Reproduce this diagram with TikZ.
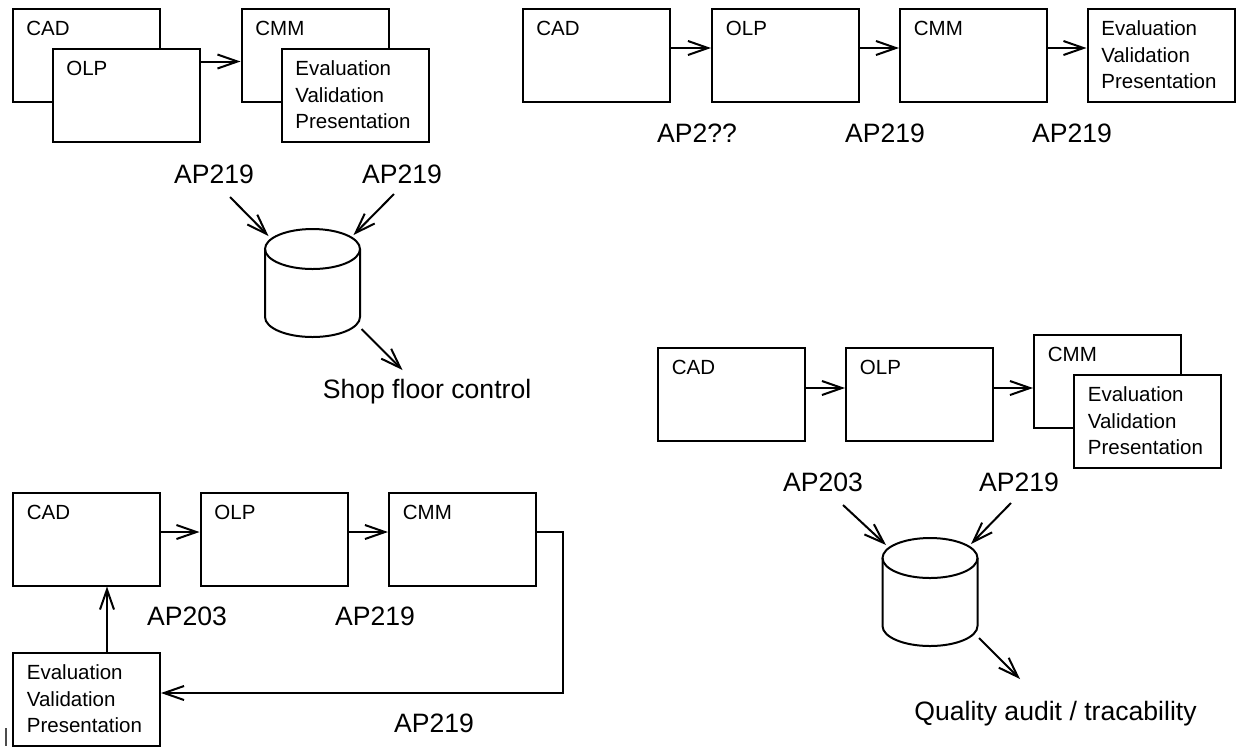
\documentclass[tikz,border=0pt]{standalone}
\usepackage{fontspec}
\setmainfont{Liberation Sans}
\usetikzlibrary{arrows.meta,calc}
\tikzset{
  >={Straight Barb[length=10pt,width=7pt]},
  boxtext/.style={font=\fontsize{10.25}{13.25}\selectfont,inner sep=0pt,
    anchor=north west,align=left,xshift=7.25pt,yshift=-6.5pt},
  box/.style={draw,fill=white,line width=1pt,minimum width=73.5pt,
    minimum height=46.5pt,label={[boxtext]north west:#1}},
  evalbox/.style={box={Evaluation\\Validation\\Presentation}},
  flow/.style={->,line width=1pt},
  tag/.style={font=\fontsize{13.3}{16}\selectfont,inner sep=0pt,anchor=base},
  % database drum
  pics/drum/.style={code={
    \draw[line width=1pt,fill=white] (-47.5,-34) -- (-47.5,34)
      arc[start angle=180,end angle=0,x radius=47.5,y radius=20] -- (47.5,-34);
    \draw[line width=1pt] (0,-34) ellipse[x radius=47.5,y radius=20];
    \coordinate (-inl) at (-44,-47);
    \coordinate (-inr) at (41,-48);
    \coordinate (-out) at (49,46);
    \coordinate (-end) at (90,87);
  }},
}

\begin{document}
\begin{tikzpicture}[x=0.5pt,y=-0.5pt]
  \useasboundingbox (0,0) rectangle (1236,746);

  % top left: shared database
  \node[box=CAD] (cadA) at (86,55) {};
  \node[box=OLP] (olpA) at (126,95) {};
  \node[box=CMM] (cmmA) at (315,55) {};
  \node[evalbox] (evalA) at (355,95) {};
  \coordinate (oA) at ([yshift=-7pt]olpA.north east);
  \draw[flow] (oA) -- (oA -| cmmA.west);
  \node[tag] (apA1) at (214,183) {AP219};
  \node[tag] (apA2) at (402,183) {AP219};
  \pic (dbA) at (312.5,283) {drum};
  \draw[flow] ([shift={(16,14)}]apA1.base) -- (dbA-inl);
  \draw[flow] ([shift={(-8,11)}]apA2.base) -- (dbA-inr);
  \draw[flow] (dbA-out) -- (dbA-end);
  \node[tag] (shopA) at (427,398) {Shop floor control};

  % top right: chain
  \foreach \n/\x/\t in {cadB/596/CAD,olpB/785.5/OLP,cmmB/973.5/CMM}
    \node[box=\t] (\n) at (\x,55) {};
  \node[evalbox] (evalB) at (1161,55) {};
  \foreach \a/\b in {cadB/olpB,olpB/cmmB,cmmB/evalB}
    \draw[flow] ([yshift=3.5pt]\a.east) -- ([yshift=3.5pt]\b.west);
  \foreach \n/\x/\t in {apB1/697/AP2??,apB2/885/AP219,apB3/1072/AP219}
    \node[tag] (\n) at (\x,142) {\t};

  % bottom left: loop back
  \foreach \n/\x/\t in {cadC/86.5/CAD,olpC/274/OLP,cmmC/462.5/CMM}
    \node[box=\t] (\n) at (\x,539) {};
  \node[evalbox] (evalC) at (86.5,699) {};
  \draw[flow] ([yshift=3.5pt]cadC.east) -- ([yshift=3.5pt]olpC.west);
  \draw[flow] ([yshift=3.5pt]olpC.east) -- ([yshift=3.5pt]cmmC.west);
  \draw[flow] ([yshift=3.5pt]cmmC.east) -- ++(26,0) |- ([yshift=3pt]evalC.east);
  \draw[flow] ([xshift=10.25pt]evalC.north) -- ([xshift=10.25pt]cadC.south);
  \foreach \n/\x/\y/\t in {apC1/187/625/AP203,apC2/375/625/AP219,apC3/434/732/AP219}
    \node[tag] (\n) at (\x,\y) {\t};
  \draw[line width=0.6pt,black!70] (6,728) -- (6,746);

  % bottom right: audit database
  \node[box=CAD] (cadD) at (731.5,394.5) {};
  \node[box=OLP] (olpD) at (919.5,394.5) {};
  \node[box=CMM] (cmmD) at (1107.5,381.5) {};
  \node[evalbox] (evalD) at (1147.5,421) {};
  \draw[flow] ([yshift=3.25pt]cadD.east) -- ([yshift=3.25pt]olpD.west);
  \coordinate (oD) at ([yshift=3.25pt]olpD.east);
  \draw[flow] (oD) -- (oD -| cmmD.west);
  \node[tag] (apD1) at (823,491) {AP203};
  \node[tag] (apD2) at (1019,491) {AP219};
  \pic (dbD) at (930,592) {drum};
  \draw[flow] ([shift={(20,14)}]apD1.base) -- (dbD-inl);
  \draw[flow] ([shift={(-8,12)}]apD2.base) -- (dbD-inr);
  \draw[flow] (dbD-out) -- (dbD-end);
  \node[tag] (audit) at (1055.5,720) {Quality audit / tracability};
\end{tikzpicture}
\end{document}
